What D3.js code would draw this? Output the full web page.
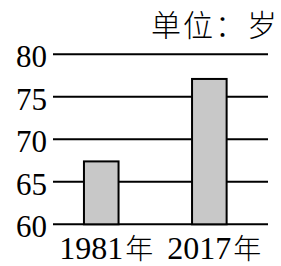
<!DOCTYPE html>
<html>
<head>
<meta charset="utf-8">
<script src="https://cdn.jsdelivr.net/npm/d3@7"></script>
<style>
  body { margin: 0; background: #fff; }
  svg { display: block; }
  .serif { font-family: "Liberation Serif", "DejaVu Serif", "Times New Roman", serif; }
  .cjk { font-family: "Noto Sans CJK SC", sans-serif; font-weight: 300; }
</style>
</head>
<body>
<div id="chart"></div>
<script>
const years = ["1981", "2017"];
const ages = [67.4, 77.1];
const yTicks = [60, 65, 70, 75, 80];
const unitLabel = "单位：岁";
const yearSuffix = "年";

const width = 281;
const height = 266;

const svg = d3.select("#chart").append("svg")
    .attr("width", width)
    .attr("height", height);

const x = d3.scaleBand()
    .domain(years)
    .range([54, 268])
    .paddingInner(0.68)
    .paddingOuter(0.33)
    .align(0.42);

const y = d3.scaleLinear()
    .domain([60, 80])
    .range([224.3, 54.3]);

// grid lines behind the bars
svg.selectAll(".grid")
    .data(yTicks)
    .enter().append("line")
    .attr("class", "grid")
    .attr("x1", 53)
    .attr("x2", 268)
    .attr("y1", d => y(d))
    .attr("y2", d => y(d))
    .attr("stroke", "#000")
    .attr("stroke-width", 2);

// tick labels
svg.selectAll(".ylab")
    .data(yTicks)
    .enter().append("text")
    .attr("class", "ylab serif")
    .attr("x", 47)
    .attr("y", d => y(d) + 13)
    .attr("text-anchor", "end")
    .attr("font-size", 31)
    .text(d => d);

// bars
svg.selectAll(".bar")
    .data(years)
    .enter().append("rect")
    .attr("class", "bar")
    .attr("x", d => x(d))
    .attr("width", x.bandwidth())
    .attr("y", (d, i) => y(ages[i]))
    .attr("height", (d, i) => y(60) - y(ages[i]))
    .attr("fill", "#c8c8c8")
    .attr("stroke", "#000")
    .attr("stroke-width", 2);

// year labels under the bars
const xl = svg.selectAll(".xlab")
    .data(years)
    .enter().append("text")
    .attr("class", "xlab")
    .attr("x", d => x(d) + x.bandwidth() / 2 + 5)
    .attr("y", 259)
    .attr("text-anchor", "middle");

xl.append("tspan")
    .attr("class", "serif")
    .attr("font-size", 32)
    .text(d => d);

xl.append("tspan")
    .attr("class", "cjk")
    .attr("font-size", 28)
    .attr("dx", 2)
    .text(yearSuffix);

// unit label
svg.append("text")
    .attr("class", "cjk")
    .attr("x", 279)
    .attr("y", 36)
    .attr("text-anchor", "end")
    .attr("font-size", 30)
    .attr("letter-spacing", 2)
    .text(unitLabel);
</script>
</body>
</html>
